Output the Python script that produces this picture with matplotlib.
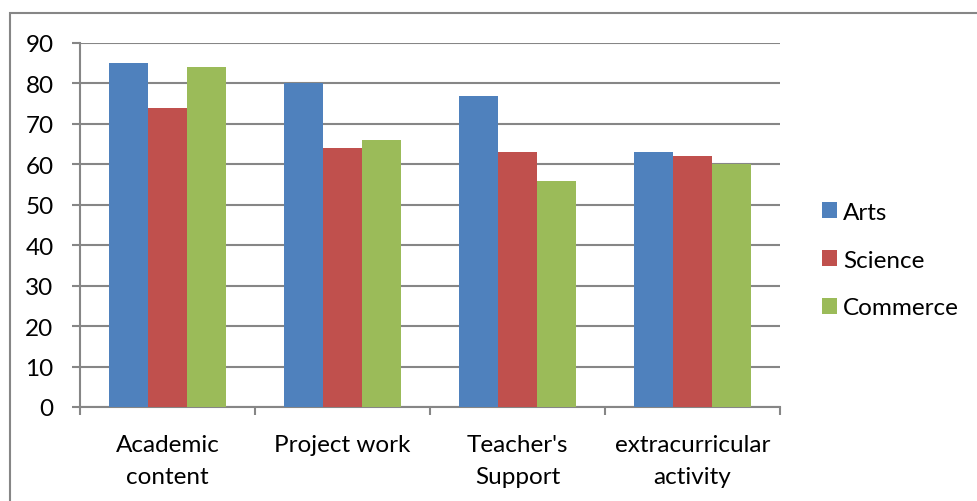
import matplotlib.pyplot as plt
import numpy as np
from matplotlib.patches import Rectangle

plt.rcParams['font.family'] = ['Lato', 'DejaVu Sans']

categories = ['Academic\ncontent', 'Project work', "Teacher's\nSupport", 'extracurricular\nactivity']
series = ['Arts', 'Science', 'Commerce']
arts = [85, 80, 77, 63]
science = [74, 64, 63, 62]
commerce = [84, 66, 56, 60]
colors = ['#4f81bd', '#c0504d', '#9bbb59']

fs = 17.5
fig = plt.figure(figsize=(9.78, 5.02), dpi=100)
# outer frame of the chart area (right and bottom run off the picture)
fig.patches.append(Rectangle((10 / 978, -0.05), 1.0, 1 - 14 / 502 + 0.05,
                             transform=fig.transFigure, fill=False,
                             edgecolor='#868686', linewidth=1.5))
ax = fig.add_axes([80 / 978, 1 - 408 / 502, 700 / 978, 364 / 502])

x = np.arange(len(categories))
w = 0.223
for i, (name, vals) in enumerate(zip(series, [arts, science, commerce])):
    ax.bar(x + (i - 1) * w, vals, w, color=colors[i], label=name, zorder=3)

ax.set_xlim(-0.5, 3.5)
ax.set_ylim(0, 90)
ax.set_yticks(range(0, 91, 10))
ax.yaxis.grid(True, color='#868686', linewidth=1.5, zorder=0)
ax.set_xticks(np.arange(-0.5, 3.6, 1))
ax.set_xticklabels([])
ax.set_xticks(x, minor=True)
ax.set_xticklabels(categories, minor=True, fontsize=fs, linespacing=1.65)
ax.tick_params(axis='x', which='minor', length=0, pad=19.5)
ax.tick_params(axis='x', which='major', length=6, color='#868686', width=1.5)
ax.tick_params(axis='y', length=6, color='#868686', width=1.5, labelsize=fs, pad=13)
for s in ['top', 'right']:
    ax.spines[s].set_visible(False)
for s in ['left', 'bottom']:
    ax.spines[s].set_color('#868686')
    ax.spines[s].set_linewidth(1.5)

fig.legend(loc='center left', bbox_to_anchor=(822 / 978, 1 - 261 / 502), frameon=False,
           fontsize=fs, handlelength=0.62, handleheight=0.62, handletextpad=0.25,
           labelspacing=1.1, borderpad=0, borderaxespad=0)

fig.savefig('out.png', dpi=100)
